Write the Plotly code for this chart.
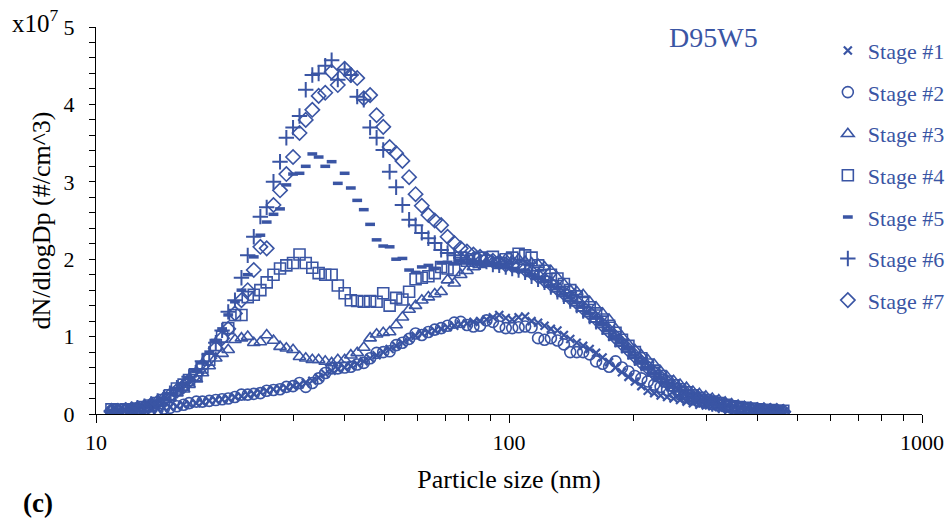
import plotly.graph_objects as go

# Particle size channels (nm)
sizes = [10.9, 11.3, 11.8, 12.2, 12.6, 13.1, 13.6, 14.1, 14.6, 15.1,
         15.7, 16.3, 16.8, 17.5, 18.1, 18.8, 19.5, 20.2, 20.9, 21.7,
         22.5, 23.3, 24.1, 25.0, 25.9, 26.9, 27.9, 28.9, 30.0, 31.1,
         32.2, 33.4, 34.6, 35.9, 37.2, 38.5, 40.0, 41.4, 42.9, 44.5,
         46.1, 47.8, 49.6, 51.4, 53.3, 55.2, 57.3, 59.4, 61.5, 63.8,
         66.1, 68.5, 71.0, 73.7, 76.4, 79.1, 82.0, 85.1, 88.2, 91.4,
         94.7, 98.2, 101.8, 105.5, 109.4, 113.4, 117.6, 121.9, 126.3, 131.0,
         135.8, 140.7, 145.9, 151.2, 156.8, 162.5, 168.5, 174.7, 181.1, 187.7,
         194.6, 201.7, 209.1, 216.7, 224.7, 232.9, 241.4, 250.3, 259.5, 269.0,
         278.8, 289.0, 299.6, 310.6, 322.0, 333.8, 346.0, 358.7, 371.8, 385.4,
         399.5, 414.2, 429.4, 445.1, 461.4]

# dN/dlogDp in units of 1e7 #/cm^3
stage1 = [0.03, 0.04, 0.05, 0.05, 0.06, 0.06, 0.07, 0.07, 0.08, 0.09,
          0.10, 0.12, 0.13, 0.14, 0.15, 0.17, 0.18, 0.19, 0.20, 0.22,
          0.23, 0.25, 0.26, 0.28, 0.30, 0.32, 0.33, 0.34, 0.36, 0.38,
          0.40, 0.43, 0.47, 0.52, 0.56, 0.58, 0.60, 0.62, 0.65, 0.68,
          0.72, 0.76, 0.80, 0.84, 0.88, 0.92, 0.97, 1.01, 1.04, 1.06,
          1.08, 1.10, 1.12, 1.14, 1.16, 1.17, 1.19, 1.20, 1.22, 1.25,
          1.28, 1.24, 1.22, 1.25, 1.26, 1.20, 1.18, 1.14, 1.10, 1.08,
          1.02, 0.97, 0.92, 0.88, 0.84, 0.79, 0.73, 0.67, 0.60, 0.54,
          0.48, 0.42, 0.36, 0.30, 0.27, 0.24, 0.22, 0.20, 0.18, 0.16,
          0.14, 0.12, 0.11, 0.10, 0.09, 0.08, 0.07, 0.06, 0.05, 0.05,
          0.04, 0.04, 0.03, 0.03, 0.03]

stage2 = [0.04, 0.04, 0.05, 0.04, 0.05, 0.05, 0.06, 0.06, 0.07, 0.08,
          0.10, 0.12, 0.14, 0.16, 0.16, 0.17, 0.18, 0.19, 0.20, 0.22,
          0.25, 0.25, 0.26, 0.27, 0.30, 0.31, 0.32, 0.35, 0.36, 0.40,
          0.35, 0.40, 0.46, 0.53, 0.59, 0.59, 0.60, 0.61, 0.64, 0.66,
          0.72, 0.79, 0.80, 0.81, 0.89, 0.92, 0.97, 1.04, 1.02, 1.06,
          1.09, 1.11, 1.14, 1.18, 1.19, 1.15, 1.13, 1.14, 1.21, 1.19,
          1.13, 1.11, 1.11, 1.12, 1.13, 1.12, 0.98, 0.96, 0.98, 0.95,
          0.90, 0.80, 0.80, 0.80, 0.77, 0.68, 0.65, 0.61, 0.68, 0.60,
          0.55, 0.49, 0.46, 0.42, 0.38, 0.35, 0.31, 0.28, 0.25, 0.22,
          0.20, 0.17, 0.15, 0.13, 0.11, 0.10, 0.08, 0.07, 0.06, 0.05,
          0.05, 0.04, 0.04, 0.03, 0.03]

stage3 = [0.05, 0.05, 0.06, 0.07, 0.08, 0.10, 0.12, 0.14, 0.18, 0.22,
          0.27, 0.32, 0.38, 0.45, 0.53, 0.62, 0.72, 0.78, 0.83, 0.96,
          0.98, 1.00, 0.92, 0.93, 1.02, 0.95, 0.87, 0.85, 0.83, 0.74,
          0.72, 0.70, 0.70, 0.68, 0.66, 0.70, 0.70, 0.76, 0.79, 0.86,
          0.98, 1.03, 1.05, 1.06, 1.15, 1.25, 1.35, 1.40, 1.47, 1.51,
          1.55, 1.58, 1.73, 1.69, 1.80, 1.85, 1.90, 1.93, 1.95, 1.97,
          1.98, 2.00, 1.98, 2.00, 1.97, 1.95, 1.93, 1.90, 1.85, 1.76,
          1.68, 1.60, 1.58, 1.54, 1.45, 1.38, 1.30, 1.22, 1.10, 1.00,
          0.90, 0.83, 0.76, 0.70, 0.64, 0.55, 0.48, 0.43, 0.38, 0.34,
          0.29, 0.26, 0.23, 0.20, 0.18, 0.15, 0.13, 0.11, 0.09, 0.08,
          0.07, 0.06, 0.05, 0.04, 0.03]

stage4 = [0.06, 0.05, 0.06, 0.05, 0.07, 0.09, 0.11, 0.14, 0.18, 0.24,
          0.33, 0.38, 0.44, 0.50, 0.60, 0.70, 0.89, 1.00, 1.11, 1.28,
          1.28, 1.51, 1.54, 1.60, 1.70, 1.80, 1.88, 1.92, 1.95, 2.06,
          1.95, 1.89, 1.82, 1.80, 1.80, 1.66, 1.56, 1.47, 1.46, 1.45,
          1.46, 1.45, 1.56, 1.40, 1.50, 1.48, 1.58, 1.74, 1.76, 1.78,
          1.82, 1.90, 1.88, 1.86, 2.02, 1.98, 2.00, 2.02, 1.98, 2.03,
          1.95, 2.00, 2.02, 2.07, 2.05, 2.02, 1.92, 1.85, 1.80, 1.75,
          1.68, 1.60, 1.52, 1.45, 1.38, 1.30, 1.22, 1.14, 1.05, 0.96,
          0.88, 0.80, 0.72, 0.64, 0.56, 0.49, 0.42, 0.37, 0.32, 0.28,
          0.24, 0.21, 0.18, 0.16, 0.14, 0.12, 0.10, 0.09, 0.08, 0.07,
          0.06, 0.05, 0.05, 0.04, 0.04]

stage5 = [0.04, 0.05, 0.05, 0.06, 0.08, 0.10, 0.13, 0.16, 0.20, 0.26,
          0.32, 0.38, 0.46, 0.55, 0.66, 0.80, 0.95, 1.10, 1.28, 1.45,
          1.60, 1.80, 2.03, 2.31, 2.48, 2.58, 2.65, 2.96, 3.10, 3.11,
          3.20, 3.36, 3.32, 3.20, 3.26, 2.98, 3.11, 2.92, 2.76, 2.64,
          2.45, 2.25, 2.17, 2.16, 2.00, 2.01, 1.86, 1.83, 1.90, 1.92,
          1.88, 1.95, 1.96, 1.94, 1.98, 1.95, 1.97, 1.93, 1.95, 1.92,
          1.90, 1.92, 1.88, 1.85, 1.86, 1.80, 1.76, 1.72, 1.66, 1.62,
          1.55, 1.50, 1.44, 1.38, 1.30, 1.24, 1.16, 1.08, 1.00, 0.92,
          0.84, 0.76, 0.68, 0.60, 0.53, 0.46, 0.40, 0.35, 0.30, 0.26,
          0.22, 0.19, 0.16, 0.14, 0.12, 0.10, 0.09, 0.08, 0.07, 0.06,
          0.05, 0.05, 0.04, 0.04, 0.03]

stage6 = [0.03, 0.04, 0.05, 0.06, 0.08, 0.10, 0.13, 0.17, 0.21, 0.27,
          0.34, 0.40, 0.48, 0.58, 0.68, 0.78, 0.92, 1.08, 1.32, 1.47,
          1.76, 2.05, 2.29, 2.55, 2.67, 3.00, 3.26, 3.57, 3.70, 3.85,
          4.19, 4.38, 4.40, 4.50, 4.57, 4.32, 4.45, 4.38, 4.10, 4.06,
          3.70, 3.57, 3.41, 3.13, 2.93, 2.70, 2.51, 2.44, 2.34, 2.27,
          2.21, 2.12, 2.08, 2.05, 2.02, 2.00, 1.98, 1.96, 1.97, 1.93,
          1.92, 1.90, 1.88, 1.86, 1.83, 1.78, 1.74, 1.70, 1.64, 1.58,
          1.52, 1.46, 1.40, 1.33, 1.26, 1.19, 1.12, 1.04, 0.96, 0.88,
          0.80, 0.72, 0.65, 0.58, 0.51, 0.45, 0.39, 0.34, 0.29, 0.25,
          0.21, 0.18, 0.16, 0.13, 0.11, 0.10, 0.08, 0.07, 0.06, 0.05,
          0.05, 0.04, 0.04, 0.03, 0.03]

stage7 = [0.04, 0.04, 0.05, 0.06, 0.07, 0.09, 0.12, 0.15, 0.19, 0.24,
          0.30, 0.36, 0.43, 0.52, 0.62, 0.72, 0.85, 0.98, 1.10, 1.30,
          1.47, 1.60, 1.86, 2.16, 2.14, 2.70, 2.89, 3.10, 3.32, 3.63,
          3.80, 3.93, 4.11, 4.15, 4.42, 4.25, 4.46, 4.38, 4.34, 4.08,
          4.12, 3.86, 3.71, 3.45, 3.37, 3.27, 3.06, 2.84, 2.69, 2.57,
          2.50, 2.44, 2.29, 2.21, 2.14, 2.10, 2.06, 2.03, 2.00, 1.98,
          1.96, 1.93, 1.92, 1.90, 1.87, 1.83, 1.78, 1.73, 1.68, 1.62,
          1.56, 1.50, 1.44, 1.37, 1.30, 1.23, 1.15, 1.07, 0.99, 0.91,
          0.83, 0.75, 0.67, 0.60, 0.53, 0.47, 0.41, 0.35, 0.30, 0.26,
          0.22, 0.19, 0.16, 0.14, 0.12, 0.10, 0.09, 0.08, 0.07, 0.06,
          0.05, 0.05, 0.04, 0.04, 0.03]

names = ["Stage #1", "Stage #2", "Stage #3", "Stage #4", "Stage #5", "Stage #6", "Stage #7"]
series = [stage1, stage2, stage3, stage4, stage5, stage6, stage7]

BLUE = "#3A55A4"
FONT = "Liberation Serif"

styles = [
    dict(symbol="x-thin-open", size=8, line=dict(width=2.2, color=BLUE)),
    dict(symbol="circle-open", size=11, line=dict(width=1.6, color=BLUE)),
    dict(symbol="triangle-up-open", size=11, line=dict(width=1.6, color=BLUE)),
    dict(symbol="square-open", size=11, line=dict(width=1.6, color=BLUE)),
    dict(symbol="line-ew-open", size=7, line=dict(width=3.5, color=BLUE)),
    dict(symbol="cross-thin-open", size=11, line=dict(width=2, color=BLUE)),
    dict(symbol="diamond-open", size=11, line=dict(width=1.6, color=BLUE)),
]

fig = go.Figure()
for nm, ys, st in zip(names, series, styles):
    fig.add_trace(go.Scatter(
        x=sizes, y=ys, mode="markers", name=nm,
        legendgroup=nm,
        marker=dict(color=BLUE, **st),
    ))

fig.update_layout(
    width=950, height=519,
    margin=dict(l=96, r=28, t=27, b=105, autoexpand=False),
    paper_bgcolor="white", plot_bgcolor="white",
    font=dict(family=FONT, size=22, color="black"),
    showlegend=True,
    legend=dict(
        x=0.886, y=0.993, xanchor="left", yanchor="top",
        font=dict(family=FONT, size=22, color=BLUE),
        tracegroupgap=10, bgcolor="rgba(0,0,0,0)",
        itemwidth=30,
    ),
    xaxis=dict(
        type="log", range=[1, 3],
        showgrid=False, zeroline=False,
        showline=True, linecolor="black", linewidth=1.3,
        ticks="outside", ticklen=8, tickwidth=1.3, tickcolor="black",
        tickvals=[10, 100, 1000], ticktext=["10", "100", "1000"],
        tickfont=dict(family=FONT, size=22, color="black"),
        minor=dict(tickvals=[20, 30, 40, 50, 60, 70, 80, 90, 200, 300, 400, 500, 600, 700, 800, 900],
                   ticks="outside", ticklen=6, tickwidth=1.3, tickcolor="black", showgrid=False),
        title=dict(text="Particle size (nm)", font=dict(family=FONT, size=26, color="black"), standoff=16),
    ),
    yaxis=dict(
        range=[0, 5],
        showgrid=False, zeroline=False,
        showline=True, linecolor="black", linewidth=1.3,
        ticks="outside", ticklen=6, tickwidth=1.3, tickcolor="black",
        tickvals=[0, 1, 2, 3, 4, 5],
        ticklabelstandoff=10,
        tickfont=dict(family=FONT, size=22, color="black"),
        minor=dict(dtick=0.2, ticks="outside", ticklen=6, tickwidth=1.3, tickcolor="black", showgrid=False),
        title=dict(text="dN/dlogDp (#/cm^3)", font=dict(family=FONT, size=26, color="black"), standoff=5),
    ),
)

fig.add_annotation(text="x10<sup>7</sup>", xref="paper", yref="paper",
                   x=-0.104, y=1.015, xanchor="left", yanchor="middle",
                   showarrow=False, font=dict(family=FONT, size=25, color="black"))
fig.add_annotation(text="D95W5", xref="paper", yref="paper",
                   x=0.747, y=0.974, xanchor="center", yanchor="middle",
                   showarrow=False, font=dict(family=FONT, size=28, color=BLUE))
fig.add_annotation(text="<b>(c)</b>", xref="paper", yref="paper",
                   x=(37.5 - 96) / 826, y=(414 - 503) / 387, xanchor="center", yanchor="middle",
                   showarrow=False, font=dict(family=FONT, size=27, color="black"))

fig.write_html("out.html", config={"displayModeBar": False},
               post_script="document.body.style.margin='0';document.body.style.overflow='hidden';")
